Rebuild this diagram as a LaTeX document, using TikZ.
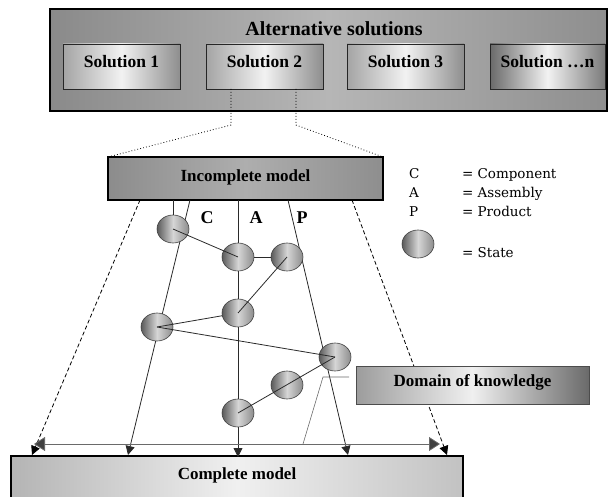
\documentclass[tikz,border=0pt]{standalone}
\usepackage{fontspec}
\setmainfont{Liberation Serif}
\newfontfamily\legfont{DejaVu Serif}
\usetikzlibrary{shapes.geometric,arrows.meta}
\definecolor{ag1}{HTML}{8A8A8A}
\definecolor{ag2}{HTML}{B6B6B6}
\definecolor{ag3}{HTML}{8E8E8E}
\definecolor{sg1}{HTML}{A4A4A4}
\definecolor{sg2}{HTML}{F2F2F2}
\definecolor{sg3}{HTML}{8E8E8E}
\definecolor{ng1}{HTML}{6A6A6A}
\definecolor{ng3}{HTML}{7A7A7A}
\definecolor{ig1}{HTML}{8C8C8C}
\definecolor{ig2}{HTML}{AEAEAE}
\definecolor{ig3}{HTML}{8E8E8E}
\definecolor{cg1}{HTML}{B4B4B4}
\definecolor{cg2}{HTML}{F0F0F0}
\definecolor{cg3}{HTML}{C2C2C2}
\definecolor{dg1}{HTML}{9C9C9C}
\definecolor{dg2}{HTML}{F0F0F0}
\definecolor{dg3}{HTML}{6A6A6A}
\definecolor{eg1}{HTML}{5A5A5A}
\definecolor{eg2}{HTML}{D6D6D6}
\definecolor{eg3}{HTML}{8C8C8C}
\definecolor{lineg}{HTML}{2A2A2A}
\definecolor{headg}{HTML}{404040}
\definecolor{leadg}{HTML}{6A6A6A}
\begin{document}
\begin{tikzpicture}[x=1pt,y=-1pt,
  every node/.style={inner sep=0pt, outer sep=0pt},
  boldf/.style={font=\bfseries\fontsize{#1}{#1}\selectfont},
  thickbox/.style={draw=black, line width=1.8pt},
  altbox/.style={thickbox, left color=ag1, right color=ag3, middle color=ag2},
  solbox/.style={draw=black!85, line width=0.9pt, minimum width=117pt, minimum height=45pt,
    left color=sg1, right color=sg3, middle color=sg2, boldf=17.5, text height=11.5pt, text depth=10pt},
  solnbox/.style={solbox, left color=ng1, right color=ng3, middle color=sg2},
  imbox/.style={thickbox, left color=ig1, right color=ig3, middle color=ig2,
    boldf=17, text height=11pt, text depth=5pt},
  cmbox/.style={thickbox, left color=cg1, right color=cg3, middle color=cg2,
    boldf=17, text height=23.5pt, text depth=40pt},
  dombox/.style={draw=black!70, line width=0.9pt, left color=dg1, right color=dg3, middle color=dg2,
    boldf=17, text height=11pt, text depth=8pt},
  state/.style={ellipse, minimum width=32pt, minimum height=28pt, draw=black!75, line width=0.6pt,
    left color=eg1, right color=eg3, middle color=eg2},
  conn/.style={draw=lineg, line width=0.8pt},
  tip/.style={-{Triangle[length=9pt,width=9pt]}},
  dashconn/.style={draw=black, line width=0.8pt, dash pattern=on 4pt off 2.5pt},
  dotconn/.style={draw=black, line width=0.8pt, dash pattern=on 0.8pt off 2.2pt},
  legf/.style={font=\legfont\fontsize{13.5}{15}\selectfont},
]
\clip (0,0) rectangle (608,497);
% top box with alternatives
\node[altbox, minimum width=557pt, minimum height=102pt] (ALT) at (328.5,60) {};
\node[boldf=20, text height=13pt, text depth=0pt] (T) at (334,29) {Alternative solutions};
\node[solbox] (S1) at (121.5,66.5) {Solution 1};
\node[solbox] (S2) at (264.5,66.5) {Solution 2};
\node[solbox] (S3) at (405.5,66.5) {Solution 3};
\node[solnbox, minimum width=115pt] (Sn) at (547.5,66.5) {Solution …n};
% incomplete and complete model
\node[imbox, minimum width=275pt, minimum height=43pt] (IM) at (245.5,178.5) {Incomplete model};
\node[cmbox, minimum width=452pt, anchor=north] (CM) at (237,456) {Complete model};
% dotted links from solution 2
\coordinate (v1) at (231,125);
\coordinate (v2) at (296,125);
\draw[dotconn] (S2.south -| v1) -- (v1) -- (IM.north west);
\draw[dotconn] (S2.south -| v2) -- (v2) -- (IM.north east);
% connector end points
\coordinate (cT) at (190,200); \coordinate (cB) at (128,455);
\coordinate (pT) at (288,200); \coordinate (pB) at (348,455);
\coordinate (dlT) at (140,200); \coordinate (dlB) at (32,455);
\coordinate (drT) at (352,200); \coordinate (drB) at (447,455);
\coordinate (hL) at (34,444); \coordinate (hR) at (440,444);
\coordinate (k1) at (349,377); \coordinate (k2) at (323,377); \coordinate (k3) at (303,444);
\coordinate (ax) at (238,0);
% C, A, P lines and outer dashed lines
\draw[conn, tip] (cT) -- (cB);
\draw[conn, tip] (IM.south -| ax) -- ([yshift=-1pt]CM.north -| ax);
\draw[conn, tip] (pT) -- (pB);
\draw[dashconn, tip] (dlT) -- (dlB);
\draw[dashconn, tip] (drT) -- (drB);
% horizontal double arrow and leader
\draw[draw=leadg, line width=0.8pt, {Triangle[length=11pt,width=14pt,fill=headg]}-{Triangle[length=11pt,width=14pt,fill=headg]}] (hL) -- (hR);
\draw[draw=leadg, line width=0.6pt] (k1) -- (k2) -- (k3);
% states
\node[state] (E1) at (173,229) {};
\node[state] (E2) at (238,257) {};
\node[state] (E3) at (287,257) {};
\node[state] (E4) at (238,313) {};
\node[state] (E5) at (157,327) {};
\node[state] (E6) at (335,357) {};
\node[state] (E7) at (287,385) {};
\node[state] (E8) at (238,413) {};
\draw[conn] (IM.south -| E1) -- (E1.north);
\draw[conn] (E1.center) -- (E2.center);
\draw[conn] (E2) -- (E3);
\draw[conn] (E3.center) -- (E4.center);
\draw[conn] (E5.center) -- (E4);
\draw[conn] (E5.center) -- (E6.center);
\draw[conn] (E8.center) -- (E6.center);
% domain of knowledge
\node[dombox, minimum width=233pt, minimum height=38pt] (DK) at (472.5,385) {Domain of knowledge};
% legend
\node[legf, anchor=base west] (LC) at (409,179) {C};
\node[legf, anchor=base west] (LA) at (409,198) {A};
\node[legf, anchor=base west] (LP) at (409,217) {P};
\node[legf, anchor=base west] (LCt) at (462,179) {= Component};
\node[legf, anchor=base west] (LAt) at (462,198) {= Assembly};
\node[legf, anchor=base west] (LPt) at (462,217) {= Product};
\node[state] (LS) at (418,244) {};
\node[legf, anchor=base west] (LSt) at (462,258) {= State};
% C A P labels
\node[boldf=18, anchor=base] (LabC) at (207,224) {C};
\node[boldf=18, anchor=base] (LabA) at (256,224) {A};
\node[boldf=18, anchor=base] (LabP) at (302,224) {P};
\end{tikzpicture}
\end{document}
